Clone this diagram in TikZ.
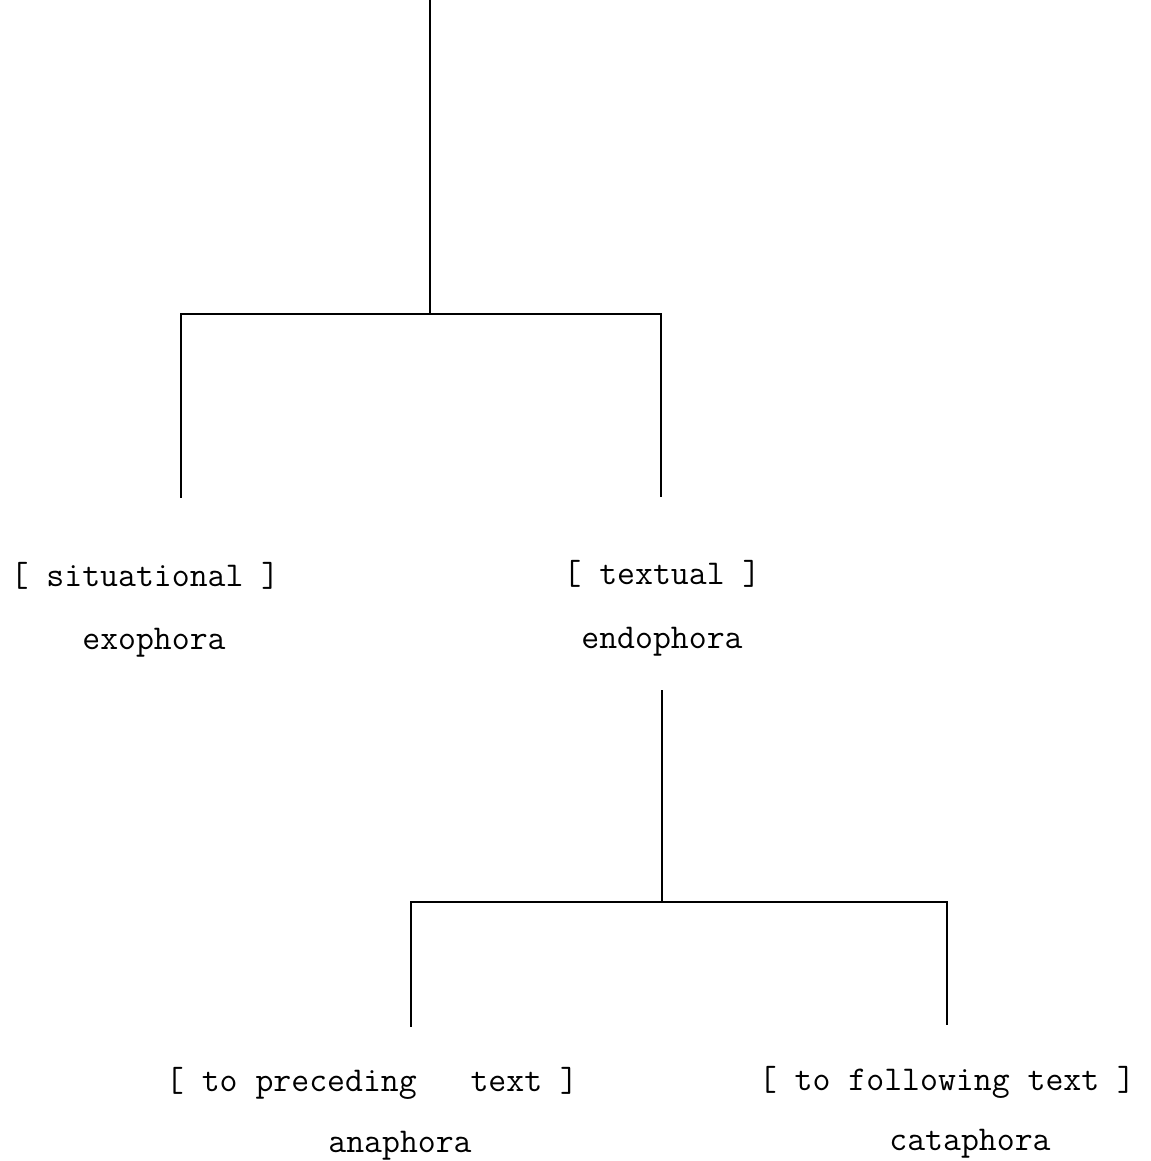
\documentclass[tikz,border=0pt]{standalone}
\usepackage{fontspec}
\usetikzlibrary{positioning}

\tikzset{
  branch/.style={black, line width=0.35mm},
  lab/.style={anchor=base, inner sep=0pt, font=\ttfamily\fontsize{19.8}{22}\selectfont}
}

\begin{document}
\begin{tikzpicture}[x=0.02cm, y=-0.02cm]

\useasboundingbox (0,0) rectangle (1151,1161);

% upper fork
{
\coordinate (top) at (430,0);
\coordinate (forkA) at (430,314);
\coordinate (exoend) at (181,498);
\coordinate (endoend) at (661,497);

\draw[branch] (top) -- (forkA);
\draw[branch] (forkA) -| (exoend);
\draw[branch] (forkA) -| (endoend);
}

% nodes
{
\node[lab] (situational) at (145,586) {[ situational ]};
\node[lab] (exophora) at (154,649) {exophora};

\node[lab] (textual) at (662,584) {[ textual ]};
\node[lab] (endophora) at (662,648) {endophora};
}

% lower fork
{
\coordinate (endostart) at (662,690);
\coordinate (forkB) at (662,902);
\coordinate (anaend) at (411,1027);
\coordinate (cataend) at (947,1025);

\draw[branch] (endostart) -- (forkB);
\draw[branch] (forkB) -| (anaend);
\draw[branch] (forkB) -| (cataend);
}

% nodes
{
\node[lab] (preceding) at (372,1091) {[ to preceding\ \ \ text ]};
\node[lab] (anaphora) at (400,1152) {anaphora};

\node[lab] (following) at (947,1090) {[ to following text ]};
\node[lab] (cataphora) at (970,1150) {cataphora};
}

\end{tikzpicture}
\end{document}
